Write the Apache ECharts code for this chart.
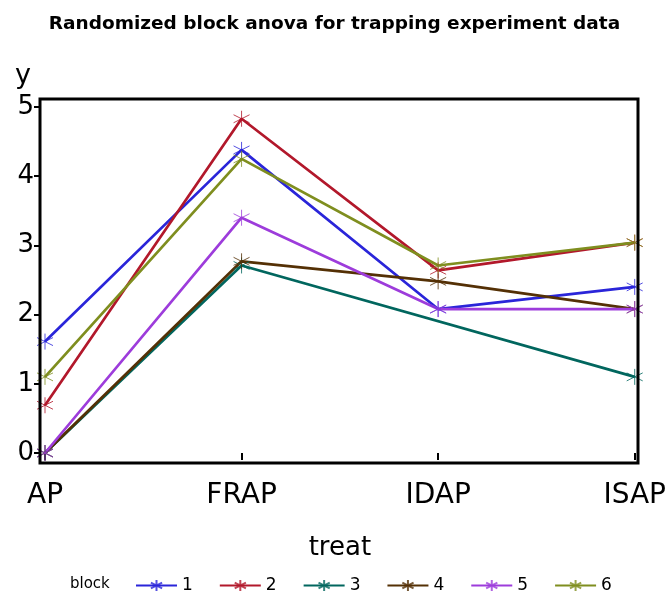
<!DOCTYPE html>
<html>
<head>
<meta charset="utf-8">
<script src="https://cdn.jsdelivr.net/npm/echarts@6/dist/echarts.min.js"></script>
<style>
  html, body { margin: 0; padding: 0; background: #fff; }
  #chart { width: 669px; height: 597px; }
</style>
</head>
<body>
<div id="chart"></div>
<script>
// 处理组 (x 轴)
const treats = ['AP', 'FRAP', 'IDAP', 'ISAP']
// 区组名称
const blocks = ['1', '2', '3', '4', '5', '6']
// 每个区组在各处理下的 y 值 (block 3 在 IDAP 缺失)
const block1 = [1.61, 4.38, 2.08, 2.40]
const block2 = [0.69, 4.83, 2.64, 3.04]
const block3 = [0, 2.71, null, 1.10]
const block4 = [0, 2.77, 2.48, 2.08]
const block5 = [0, 3.40, 2.08, 2.08]
const block6 = [1.10, 4.25, 2.71, 3.04]
const yTicks = [0, 1, 2, 3, 4, 5]

const blockData = [block1, block2, block3, block4, block5, block6]
const colors = ['#2A25D9', '#B2182B', '#01665E', '#543005', '#9D3CDB', '#7F8E1F']
// 星号标记
const starSymbol = 'path://M10,0 L10,20 M1,5 L19,15 M1,15 L19,5'

const chart = echarts.init(document.getElementById('chart'))

const option = {
  animation: false,
  backgroundColor: '#fff',
  title: [
    {
      text: 'Randomized block anova for trapping experiment data',
      left: 'center',
      top: 10,
      textStyle: {
        fontFamily: 'DejaVu Sans',
        fontWeight: 'bold',
        fontSize: 18.5,
        color: '#000'
      }
    },
    {
      text: 'block',
      left: 65,
      top: 572,
      textStyle: {
        fontFamily: 'DejaVu Sans',
        fontWeight: 'normal',
        fontSize: 15,
        color: '#000'
      }
    }
  ],
  legend: {
    left: 130,
    top: 572,
    itemWidth: 41,
    itemHeight: 14,
    itemGap: 26,
    textStyle: { fontFamily: 'DejaVu Sans', fontSize: 17, color: '#000' },
    data: blocks
  },
  grid: {
    left: 45,
    right: 34,
    top: 107,
    bottom: 144
  },
  // 外框
  graphic: [
    {
      type: 'rect',
      shape: { x: 40, y: 99, width: 598, height: 364 },
      style: { fill: 'none', stroke: '#000', lineWidth: 3 },
      silent: true,
      z: 10
    }
  ],
  xAxis: {
    type: 'category',
    data: treats,
    boundaryGap: false,
    offset: 10,
    name: 'treat',
    nameLocation: 'middle',
    nameGap: 72,
    nameTextStyle: { fontFamily: 'DejaVu Sans', fontSize: 26, color: '#000' },
    axisLine: { show: false },
    axisTick: { show: true, length: 7, lineStyle: { color: '#000', width: 2 } },
    axisLabel: {
      margin: 19,
      fontFamily: 'DejaVu Sans',
      fontSize: 28,
      color: '#000'
    },
    splitLine: { show: false }
  },
  yAxis: {
    type: 'value',
    min: yTicks[0],
    max: yTicks[yTicks.length - 1],
    interval: 1,
    offset: 5,
    name: 'y',
    nameLocation: 'end',
    nameGap: 18,
    nameTextStyle: {
      fontFamily: 'DejaVu Sans',
      fontSize: 27,
      color: '#000',
      padding: [0, 34, 0, 0]
    },
    axisLine: { show: false },
    axisTick: { show: true, length: 6, lineStyle: { color: '#000', width: 2 } },
    axisLabel: {
      margin: 6,
      fontFamily: 'DejaVu Sans',
      fontSize: 26,
      color: '#000'
    },
    splitLine: { show: false }
  },
  series: blocks.map((name, i) => ({
    name: name,
    type: 'line',
    data: blockData[i],
    connectNulls: true,
    symbol: starSymbol,
    symbolSize: 16,
    showSymbol: true,
    itemStyle: {
      color: 'none',
      borderColor: colors[i],
      borderWidth: 1,
      opacity: 0.8
    },
    lineStyle: { color: colors[i], width: 2.7 },
    color: colors[i],
    emphasis: { disabled: true }
  }))
}

chart.setOption(option)
</script>
</body>
</html>
